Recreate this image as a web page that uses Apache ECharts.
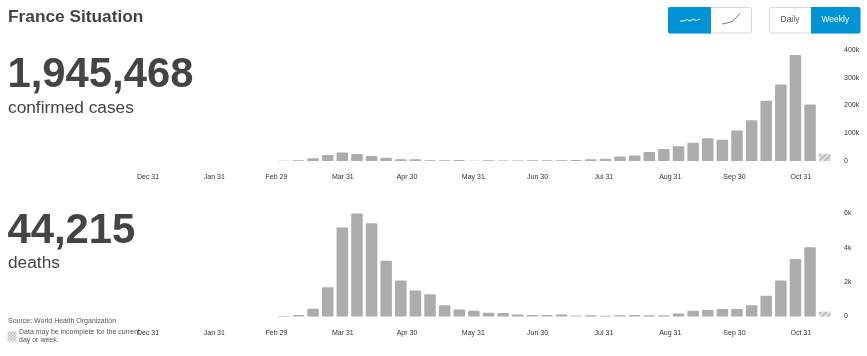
<!DOCTYPE html>
<html>
<head>
<meta charset="utf-8">
<style>html,body{margin:0;padding:0;background:#fff}#c{width:867px;height:356px}</style>
<script src="https://cdn.jsdelivr.net/npm/echarts@6/dist/echarts.min.js"></script>
</head>
<body>
<div id="c"></div>
<script>
// Weeks on the bar axis, starting from the week of 30 Dec 2019
const weeks = ['2019-12-30','2020-01-06','2020-01-13','2020-01-20','2020-01-27','2020-02-03','2020-02-10','2020-02-17','2020-02-24',
  '2020-03-02','2020-03-09','2020-03-16','2020-03-23','2020-03-30','2020-04-06','2020-04-13','2020-04-20','2020-04-27',
  '2020-05-04','2020-05-11','2020-05-18','2020-05-25','2020-06-01','2020-06-08','2020-06-15','2020-06-22','2020-06-29',
  '2020-07-06','2020-07-13','2020-07-20','2020-07-27','2020-08-03','2020-08-10','2020-08-17','2020-08-24','2020-08-31',
  '2020-09-07','2020-09-14','2020-09-21','2020-09-28','2020-10-05','2020-10-12','2020-10-19','2020-10-26','2020-11-02','2020-11-09','2020-11-16'];
const leadingEmpty = [null,null,null,null,null,null,null,null,null];
const confirmedWeekly = [500,2500,10000,22000,31000,25000,18000,12000,6000,6000,2500,2500,4000,1200,2500,2000,1500,2500,2500,2800,
  4000,6000,8000,16000,20000,32000,43000,53000,66000,82000,77000,110000,147000,217000,276000,382000,204000,26000];
const deathsWeekly = [30,90,456,1710,5190,6220,5430,3250,2100,1520,1290,650,410,340,220,200,120,90,90,120,
  40,70,50,70,85,70,70,180,340,380,440,440,650,1210,2090,3350,4030,280];
const tickDates = ['2019-12-31','2020-01-31','2020-02-29','2020-03-31','2020-04-30','2020-05-31','2020-06-30','2020-07-31','2020-08-31','2020-09-30','2020-10-31'];
const tickLabels = ['Dec 31','Jan 31','Feb 29','Mar 31','Apr 30','May 31','Jun 30','Jul 31','Aug 31','Sep 30','Oct 31'];
const dateAxisStart = '2019-12-29T14:00:00Z';
const dateAxisEnd = '2020-11-14T14:00:00Z';
const confirmedTotal = '1,945,468';
const deathsTotal = '44,215';

const FONT = '"Liberation Sans", Arial, sans-serif';
const GREY = '#adacac', INK = '#444', BLUE = '#0094d6';
const DAY = 86400000;
const toDay = s => Date.parse(s) / DAY;
const tickDays = tickDates.map(d => toDay(d + 'T00:00:00Z'));

function hatched(values) {
  const all = leadingEmpty.concat(values);
  return all.map((v, i) => i === all.length - 1
    ? { value: v, itemStyle: { color: '#e4e4e4', decal: { symbol: 'rect', color: '#b8b8b8', dashArrayX: [1, 0], dashArrayY: [1.5, 1.5], rotation: -Math.PI / 4 } } }
    : v);
}
function catAxis(g) {
  return { type: 'category', gridIndex: g, data: weeks, show: false };
}
function dateAxis(g) {
  return {
    type: 'value', gridIndex: g, position: 'bottom', scale: true,
    min: toDay(dateAxisStart), max: toDay(dateAxisEnd),
    axisLine: { show: false }, axisTick: { show: false }, splitLine: { show: false },
    axisLabel: {
      customValues: tickDays, margin: 13, fontSize: 7, color: '#333', fontFamily: FONT, hideOverlap: false,
      formatter: v => tickLabels[tickDays.findIndex(d => Math.abs(d - v) < 0.5)] ?? ''
    }
  };
}
function valAxis(g, max, interval) {
  return {
    type: 'value', gridIndex: g, position: 'right', min: 0, max, interval,
    axisLine: { show: false }, axisTick: { show: false }, splitLine: { show: false },
    axisLabel: { margin: 12, fontSize: 7, color: '#333', fontFamily: FONT, align: 'left',
      formatter: v => v === 0 ? '0' : (v / 1000) + 'k' }
  };
}
function txt(x, y, text, size, weight, color) {
  return { type: 'text', x, y, silent: true, style: { text, font: `${weight} ${size}px ${FONT}`, fill: color, verticalAlign: 'middle' } };
}
function box(x, y, w, h, fill, stroke, r) {
  return { type: 'rect', silent: true, shape: { x, y, width: w, height: h, r: r || 0 }, style: { fill, stroke: stroke || null, lineWidth: 1 } };
}

const chart = echarts.init(document.getElementById('c'), null, { renderer: 'canvas' });
chart.setOption({
  animation: false,
  backgroundColor: '#fff',
  grid: [
    { left: 145, width: 687, top: 50, height: 111 },
    { left: 145, width: 687, top: 213.5, height: 103 }
  ],
  xAxis: [catAxis(0), dateAxis(0), catAxis(1), dateAxis(1)],
  yAxis: [valAxis(0, 400000, 100000), valAxis(1, 6000, 2000)],
  series: [
    { name: 'confirmed cases', type: 'bar', xAxisIndex: 0, yAxisIndex: 0, barWidth: 11.5, data: hatched(confirmedWeekly), itemStyle: { color: GREY, borderRadius: [1, 1, 0, 0] } },
    { name: 'deaths', type: 'bar', xAxisIndex: 2, yAxisIndex: 1, barWidth: 11.5, data: hatched(deathsWeekly), itemStyle: { color: GREY, borderRadius: [1, 1, 0, 0] } }
  ],
  graphic: [
    txt(8, 17, 'France Situation', 17.3, 'bold', INK),
    txt(7.5, 75, confirmedTotal, 41.8, 'bold', INK),
    txt(8, 108, 'confirmed cases', 17.3, 'normal', INK),
    txt(7.5, 231, deathsTotal, 41.8, 'bold', INK),
    txt(8, 263, 'deaths', 17.3, 'normal', INK),
    txt(8, 321, 'Source: World Health Organization', 7, 'normal', '#555'),
    txt(19, 332, 'Data may be incomplete for the current', 7, 'normal', '#555'),
    txt(19, 340.5, 'day or week.', 7, 'normal', '#555'),
    {
      type: 'rect', silent: true, shape: { x: 7.5, y: 331.5, width: 9, height: 10 },
      style: { fill: { image: (function () {
        const c = document.createElement('canvas'); c.width = c.height = 3;
        const x = c.getContext('2d'); x.fillStyle = '#e4e4e4'; x.fillRect(0, 0, 3, 3);
        x.strokeStyle = '#b8b8b8'; x.lineWidth = 1; x.beginPath(); x.moveTo(0, 3); x.lineTo(3, 0); x.stroke(); return c;
      })(), repeat: 'repeat' } }
    },
    box(668.5, 7.5, 83, 25.5, '#fff', '#d9d9d9', 2),
    box(668, 7, 43, 26.5, BLUE, null, [2, 0, 0, 2]),
    box(769.5, 7.5, 90.5, 25.5, '#fff', '#d9d9d9', 2),
    box(811, 7, 49.5, 26.5, BLUE, null, [0, 2, 2, 0]),
    { type: 'polyline', silent: true, shape: { points: [[680, 21], [684, 21], [687, 19.5], [690, 21], [693, 19], [696, 20.5], [700, 19]] }, style: { stroke: '#fff', fill: null, lineWidth: 1 } },
    { type: 'polyline', silent: true, shape: { points: [[722, 24], [727, 23], [732, 21.5], [736, 18], [740, 13]] }, style: { stroke: '#777', fill: null, lineWidth: 1 } },
    txt(780.5, 20, 'Daily', 8.5, 'normal', '#555'),
    txt(821.5, 20, 'Weekly', 8.5, 'normal', '#fff')
  ]
});
</script>
</body>
</html>
